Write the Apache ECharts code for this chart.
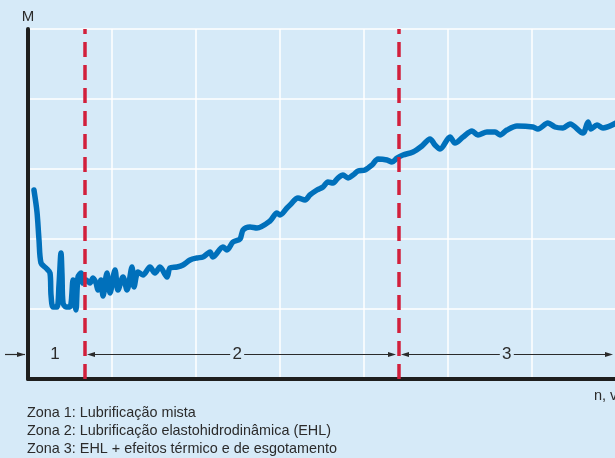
<!DOCTYPE html>
<html>
<head>
<meta charset="utf-8">
<script src="https://cdn.jsdelivr.net/npm/echarts@6/dist/echarts.min.js"></script>
<style>
  html, body { margin: 0; padding: 0; background: #d6eaf8; }
  #chart { width: 615px; height: 458px; }
</style>
</head>
<body>
<div id="chart"></div>
<script>
// Friction torque M versus speed n, v across three lubrication zones
const speedValues = [
  0.071, 0.107, 0.131, 0.155, 0.214, 0.262, 0.274, 0.298, 0.345, 0.369,
  0.393, 0.405, 0.417, 0.452, 0.500, 0.536, 0.560, 0.571, 0.595, 0.631,
  0.655, 0.690, 0.738, 0.774, 0.810, 0.833, 0.869, 0.893, 0.940, 0.976,
  1.036, 1.071, 1.131, 1.179, 1.238, 1.262, 1.310, 1.369, 1.452, 1.512,
  1.571, 1.655, 1.690, 1.774, 1.845, 1.929, 2.012, 2.083, 2.131, 2.167,
  2.202, 2.321, 2.369, 2.440, 2.524, 2.560, 2.643, 2.726, 2.881, 2.964,
  3.000, 3.083, 3.119, 3.214, 3.298, 3.357, 3.440, 3.512, 3.571, 3.631,
  3.690, 3.750, 3.810, 3.869, 3.929, 4.012, 4.095, 4.167, 4.274, 4.333,
  4.393, 4.464, 4.583, 4.690, 4.786, 4.845, 4.905, 5.024, 5.083, 5.179,
  5.286, 5.357, 5.464, 5.560, 5.619, 5.702, 5.821, 6.012, 6.071, 6.190,
  6.274, 6.369, 6.452, 6.607, 6.667, 6.702, 6.774, 6.845, 7.000
];
const torqueValues = [
  2.700, 2.386, 1.986, 1.657, 1.586, 1.514, 1.200, 1.029, 1.029, 1.343,
  1.800, 1.486, 1.086, 1.029, 1.029, 1.414, 1.057, 0.986, 1.457, 1.514,
  1.371, 1.414, 1.371, 1.443, 1.371, 1.271, 1.414, 1.186, 1.514, 1.229,
  1.557, 1.271, 1.457, 1.271, 1.600, 1.314, 1.529, 1.486, 1.600, 1.514,
  1.600, 1.457, 1.586, 1.600, 1.629, 1.700, 1.729, 1.743, 1.786, 1.814,
  1.743, 1.886, 1.843, 1.957, 2.000, 2.129, 2.171, 2.157, 2.257, 2.371,
  2.343, 2.443, 2.486, 2.586, 2.557, 2.629, 2.700, 2.743, 2.814, 2.800,
  2.871, 2.914, 2.871, 2.914, 2.971, 2.986, 3.057, 3.143, 3.129, 3.100,
  3.157, 3.200, 3.243, 3.329, 3.429, 3.343, 3.286, 3.457, 3.371, 3.457,
  3.543, 3.486, 3.529, 3.529, 3.486, 3.557, 3.614, 3.600, 3.571, 3.657,
  3.600, 3.586, 3.643, 3.514, 3.671, 3.571, 3.629, 3.586, 3.657
];

// Zone limits along the speed axis and their labels
const zoneBounds = [0, 0.667, 4.405, 7];
const zoneNames = ['1', '2', '3'];
const zoneLabelX = [0.32, 2.49, 5.70];
const zoneRowY = 0.35;

const xAxisName = 'n, v';
const yAxisName = 'M';
const zoneLegend = [
  'Zona 1: Lubrificação mista',
  'Zona 2: Lubrificação elastohidrodinâmica (EHL)',
  'Zona 3: EHL + efeitos térmico e de esgotamento'
];

const BG = '#d6eaf8';
const INK = '#2b2b2b';
const FONT = '"Liberation Sans", sans-serif';

const chart = echarts.init(document.getElementById('chart'), null, { renderer: 'canvas' });

const curve = speedValues.map((x, i) => [x, torqueValues[i]]);

chart.setOption({
  backgroundColor: BG,
  animation: false,
  grid: { left: 28, top: 29, width: 588, bottom: 79, containLabel: false, outerBoundsMode: 'none' },
  xAxis: {
    type: 'value', min: 0, max: 7, interval: 1,
    name: xAxisName, nameLocation: 'end', nameGap: -22,
    nameTextStyle: { color: INK, fontFamily: FONT, fontSize: 14.5, verticalAlign: 'top', align: 'left', padding: [9, 0, 0, 0] },
    axisLine: { onZero: false, lineStyle: { color: '#1e1e1e', width: 4 } },
    axisTick: { show: false }, axisLabel: { show: false },
    splitLine: { show: true, lineStyle: { color: '#ffffff', width: 1.5 } }
  },
  yAxis: {
    type: 'value', min: 0, max: 5, interval: 1,
    name: yAxisName, nameLocation: 'end', nameGap: 5,
    nameTextStyle: { color: INK, fontFamily: FONT, fontSize: 15, align: 'center' },
    axisLine: { show: true, lineStyle: { color: '#1e1e1e', width: 4 } },
    axisTick: { show: false }, axisLabel: { show: false },
    splitLine: { show: true, lineStyle: { color: '#ffffff', width: 1.5 } }
  },
  series: [
    {
      type: 'line', data: curve, showSymbol: false, smooth: 0.3, clip: false,
      lineStyle: { color: '#0070bb', width: 5.5, cap: 'round', join: 'round' },
      z: 3
    },
    {
      type: 'line', data: [], z: 5,
      markLine: {
        silent: true, symbol: ['none', 'none'], label: { show: false },
        lineStyle: { color: '#d2203c', width: 3.5, type: [15, 8] },
        data: zoneBounds.slice(1, 3).map(v => ({ xAxis: v }))
      }
    }
  ]
});

// Zone arrows and captions, placed through the axis scales
function px(x, y) { return chart.convertToPixel({ gridIndex: 0 }, [x, y]); }

const lineStyle = { stroke: INK, lineWidth: 1.2 };
function arrowHead(tipX, y, dir) {
  const len = 8, half = 2.6;
  return {
    type: 'polygon', z: 10,
    shape: { points: [[tipX, y], [tipX - dir * len, y - half], [tipX - dir * len, y + half]] },
    style: { fill: INK }
  };
}
function seg(x1, x2, y) {
  return { type: 'line', z: 10, shape: { x1: x1, y1: y, x2: x2, y2: y }, style: lineStyle };
}
function label(x, y, t) {
  return {
    type: 'text', z: 11, x: x, y: y,
    style: { text: t, fill: INK, font: '17px ' + FONT, align: 'center', verticalAlign: 'middle' }
  };
}

const graphics = [];
const rowY = px(0, zoneRowY)[1];
const bx = zoneBounds.map(v => px(v, zoneRowY)[0]);

// zone 1: inflow arrow ending at the vertical axis
graphics.push(seg(bx[0] - 23, bx[0] - 3, rowY));
graphics.push(arrowHead(bx[0] - 3, rowY, 1));
graphics.push(label(px(zoneLabelX[0], zoneRowY)[0], rowY, zoneNames[0]));

// zones 2 and 3: double arrows broken by the zone number
for (let k = 1; k < 3; k++) {
  const left = bx[k] + 3;
  const right = Math.min(bx[k + 1], 615) - 2;
  const cx = px(zoneLabelX[k], zoneRowY)[0];
  graphics.push(seg(left + 2, cx - 7, rowY));
  graphics.push(seg(cx + 7, right - 2, rowY));
  graphics.push(arrowHead(left, rowY, -1));
  graphics.push(arrowHead(right, rowY, 1));
  graphics.push(label(cx, rowY, zoneNames[k]));
}

// zone descriptions under the plot
zoneLegend.forEach((t, i) => {
  graphics.push({
    type: 'text', x: 27, y: 413 + i * 18,
    style: { text: t, fill: INK, font: '14.4px ' + FONT, align: 'left', verticalAlign: 'middle' }
  });
});

chart.setOption({ graphic: graphics });
</script>
</body>
</html>
